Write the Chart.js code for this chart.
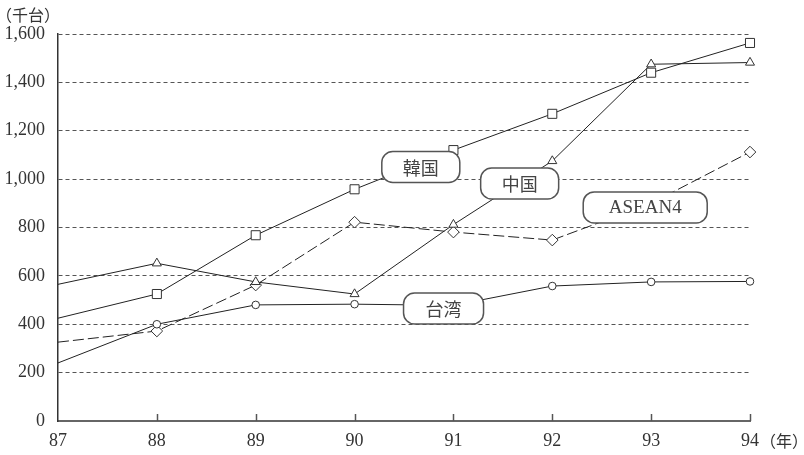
<!DOCTYPE html>
<html>
<head>
<meta charset="utf-8">
<script src="https://cdn.jsdelivr.net/npm/chart.js@4"></script>
<style>
  html, body { margin: 0; padding: 0; background: #fff; }
  #wrap { width: 804px; height: 455px; position: relative; }
</style>
</head>
<body>
<div id="wrap"><canvas id="chart" width="804" height="455"></canvas></div>
<script>
// 年 (横軸)
const years = ["87", "88", "89", "90", "91", "92", "93", "94"];
// 千台
const korea  = [425, 525, 768, 958, 1120, 1270, 1440, 1563];
const china  = [565, 652, 575, 525, 812, 1075, 1475, 1482];
const taiwan = [240, 400, 480, 483, 478, 558, 575, 577];
const asean4 = [326, 372, 562, 822, 781, 748, 900, 1112];
const yTicks = [0, 200, 400, 600, 800, 1000, 1200, 1400, 1600];

// ラベル枠 (データ座標: 年のインデックス, 値)
const callouts = [
    { text: "韓国",   x: 3.67, y: 1050, w: 78,  h: 31 },
    { text: "中国",   x: 4.67, y: 982,  w: 78,  h: 31 },
    { text: "ASEAN4", x: 5.94, y: 883,  w: 124, h: 31 },
    { text: "台湾",   x: 3.90, y: 465,  w: 80,  h: 31 },
];

const FONT = "'Liberation Serif', 'Noto Sans CJK JP', serif";
const INK = "#222";

function lineSet(label, data, style, radius, dash) {
    // 87年の始点には記号なし
    const r = (c) => (c.dataIndex === 0 ? 0 : radius);
    return {
        label: label,
        data: data,
        borderColor: INK,
        borderWidth: 1,
        borderDash: dash || [],
        pointStyle: style,
        pointRadius: r,
        pointHoverRadius: r,
        pointBackgroundColor: "#fff",
        pointBorderColor: "#333",
        pointBorderWidth: 1,
        tension: 0,
        fill: false,
    };
}

// 横軸の目盛り(上向き)、単位、ラベル枠
const extras = {
    id: "extras",
    afterDatasetsDraw(chart) {
        const ctx = chart.ctx;
        const xs = chart.scales.x;
        const ys = chart.scales.y;
        const area = chart.chartArea;

        ctx.save();
        ctx.strokeStyle = "#555";
        ctx.lineWidth = 1.5;
        years.forEach((_, i) => {
            if (i === 0) return;
            const px = Math.round(xs.getPixelForValue(i)) + 0.5;
            ctx.beginPath();
            ctx.moveTo(px, area.bottom);
            ctx.lineTo(px, area.bottom - 7);
            ctx.stroke();
        });

        ctx.fillStyle = "#333";
        ctx.font = "16px 'Noto Sans CJK JP'";
        ctx.textBaseline = "middle";
        ctx.textAlign = "left";
        ctx.fillText("（千台）", -4, 15);
        ctx.fillText("（年）", xs.getPixelForValue(years.length - 1) + 10, area.bottom + 20);

        callouts.forEach((c) => {
            const cx = xs.getPixelForValue(c.x);
            const cy = ys.getPixelForValue(c.y);
            const x0 = cx - c.w / 2, y0 = cy - c.h / 2;
            ctx.beginPath();
            ctx.roundRect(x0, y0, c.w, c.h, 11);
            ctx.fillStyle = "#fff";
            ctx.fill();
            ctx.strokeStyle = "#555";
            ctx.lineWidth = 1.5;
            ctx.stroke();
            ctx.fillStyle = "#444";
            ctx.textAlign = "center";
            ctx.font = c.text === "ASEAN4" ? "19px " + FONT : "18px 'Noto Sans CJK JP'";
            ctx.fillText(c.text, cx, cy + 1);
        });
        ctx.restore();
    },
};

new Chart(document.getElementById("chart"), {
    type: "line",
    data: {
        labels: years,
        datasets: [
            lineSet("韓国", korea, "rect", 6.4),
            lineSet("中国", china, "triangle", 5.2),
            lineSet("台湾", taiwan, "circle", 3.8),
            lineSet("ASEAN4", asean4, "rectRot", 5.8, [11, 4]),
        ],
    },
    options: {
        responsive: false,
        animation: false,
        layout: { padding: { top: 34, right: 54, left: 0, bottom: 0 } },
        plugins: {
            legend: { display: false },
            tooltip: { enabled: false },
        },
        scales: {
            x: {
                offset: false,
                grid: { display: false, drawTicks: false },
                border: { display: true, color: "#666", width: 2 },
                ticks: {
                    color: "#333",
                    padding: 9,
                    maxRotation: 0,
                    font: { family: FONT, size: 18 },
                },
                afterFit(scale) { scale.height = 34; },
            },
            y: {
                min: 0,
                max: 1600,
                afterBuildTicks(scale) {
                    scale.ticks = yTicks.map((v) => ({ value: v }));
                },
                grid: {
                    drawTicks: false,
                    color: (c) => (c.tick && c.tick.value === 0 ? "rgba(0,0,0,0)" : "#555"),
                    lineWidth: 1,
                },
                border: { display: true, color: "#333", width: 1.5, dash: [4, 3] },
                ticks: {
                    color: "#333",
                    padding: 13,
                    font: { family: FONT, size: 18 },
                    callback: (v) => v.toLocaleString("en-US"),
                },
                afterFit(scale) { scale.width = 58; },
            },
        },
    },
    plugins: [extras],
});
</script>
</body>
</html>
